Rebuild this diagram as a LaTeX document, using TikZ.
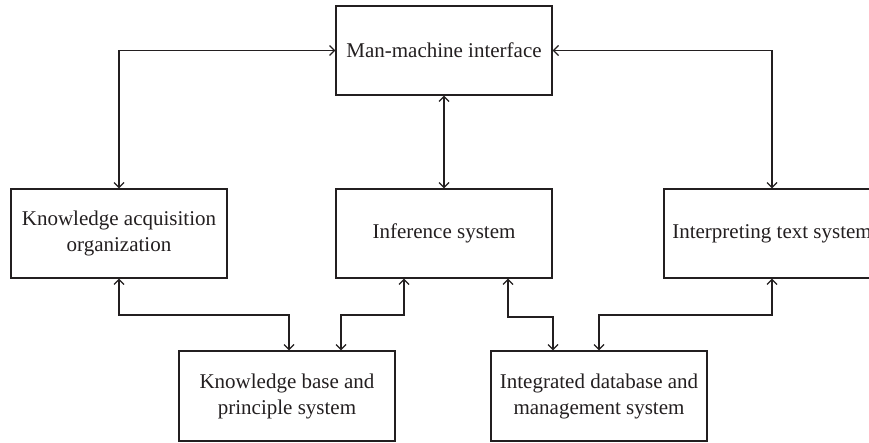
\documentclass[tikz,border=0pt]{standalone}
\usepackage{fontspec}
\setmainfont{Liberation Serif}
\usetikzlibrary{arrows.meta}
\definecolor{ink}{HTML}{231F20}
\begin{document}
\begin{tikzpicture}[x=1pt,y=-1pt,
  box/.style={draw=ink,line width=1.3pt,minimum width=216pt,minimum height=89pt,
    inner sep=0pt,align=center,text=ink,font=\fontsize{21}{26}\selectfont},
  link/.style={draw=ink,line width=1.2pt,{Straight Barb[length=5pt,width=10pt]}-{Straight Barb[length=5pt,width=10pt]}}]
\clip (0,0) rectangle (869,443);
\fill[white] (0,0) rectangle (869,443);
\node[box] (mmi) at (444,50.5) {Man-machine interface};
\node[box] (ka) at (119,233.5) {Knowledge acquisition\\organization};
\node[box] (is) at (444,233.5) {Inference system};
\node[box] (it) at (772,233.5) {Interpreting text system};
\node[box,minimum height=90pt] (kb) at (287,396) {Knowledge base and\\principle system};
\node[box,minimum height=90pt] (id) at (599,396) {Integrated database and\\management system};
\coordinate (ya) at (0,315);
\coordinate (yb) at (0,317);
\draw[link] (ka.north) |- (mmi.west);
\draw[link] (it.north) |- (mmi.east);
\draw[link] (mmi.south) -- (is.north);
\draw[link] (ka.south) -- (ka.south |- ya) -| ([xshift=2pt]kb.north);
\draw[link] ([xshift=-40pt]is.south) -- ([xshift=-40pt]is.south |- ya) -| ([xshift=54pt]kb.north);
\draw[link] ([xshift=64pt]is.south) -- ([xshift=64pt]is.south |- yb) -| ([xshift=-46pt]id.north);
\draw[link] (it.south) -- (it.south |- ya) -| (id.north);
\end{tikzpicture}
\end{document}
